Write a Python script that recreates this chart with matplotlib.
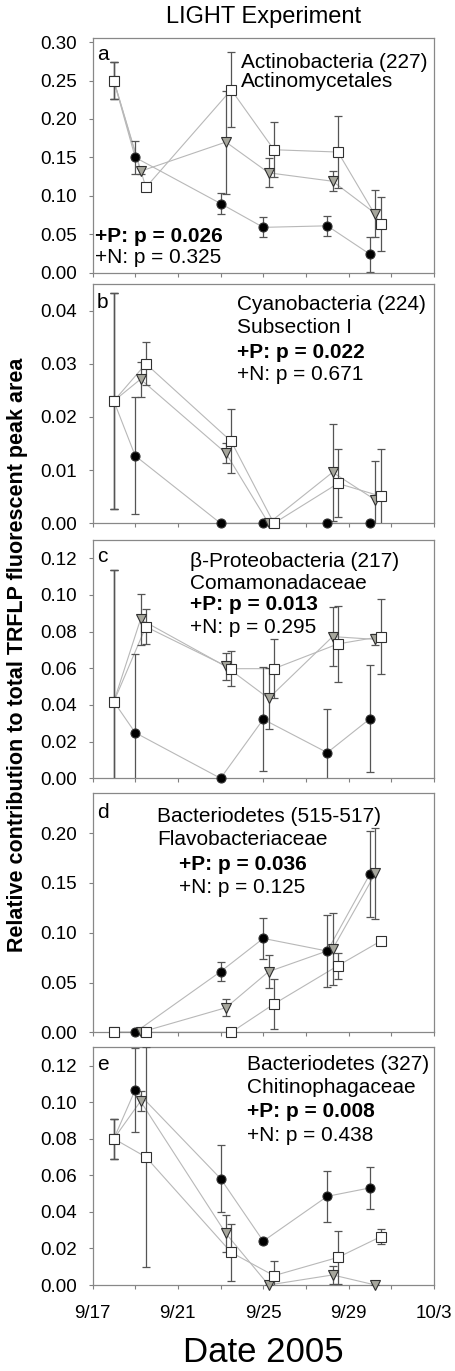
import datetime as dt
import matplotlib
matplotlib.use("Agg")
import matplotlib.pyplot as plt
from matplotlib.ticker import MultipleLocator, FormatStrFormatter, FuncFormatter, FixedLocator
import matplotlib.dates as mdates

plt.rcParams['font.family'] = ['Liberation Sans', 'DejaVu Sans']

# sampling dates (first one is shared by all treatments)
days = ['18/09/2005', '19/09/2005', '23/09/2005', '25/09/2005', '28/09/2005', '30/09/2005']
dates = [dt.datetime.strptime(d, '%d/%m/%Y') for d in days]

# a - Actinobacteria (227)
a_circle = [0.250, 0.150, 0.090, 0.059, 0.061, 0.024]
a_circle_err = [0.024, 0.021, 0.014, 0.013, 0.013, 0.023]
a_tri = [0.250, 0.132, 0.170, 0.130, 0.119, 0.077]
a_tri_err = [0.024, 0.004, 0.067, 0.019, 0.013, 0.031]
a_sq = [0.250, 0.111, 0.238, 0.160, 0.157, 0.063]
a_sq_err = [0.024, 0.0, 0.049, 0.036, 0.047, 0.035]

# b - Cyanobacteria (224)
b_circle = [0.0230, 0.0127, 0.0, 0.0, 0.0, 0.0]
b_circle_err = [0.0203, 0.0110, 0.0, 0.0, 0.0, 0.0]
b_tri = [0.0230, 0.0271, 0.0132, 0.0, 0.0096, 0.0044]
b_tri_err = [0.0203, 0.0033, 0.0019, 0.0, 0.0091, 0.0074]
b_sq = [0.0230, 0.0300, 0.0154, 0.0, 0.0075, 0.0051]
b_sq_err = [0.0203, 0.0040, 0.0060, 0.0, 0.0064, 0.0088]

# c - beta-Proteobacteria (217)
c_circle = [0.0418, 0.0249, 0.0, 0.0322, 0.0140, 0.0325]
c_circle_err = [0.0720, 0.0427, 0.0, 0.0283, 0.0236, 0.0293]
c_tri = [0.0418, 0.0867, 0.0610, 0.0436, 0.0773, 0.0758]
c_tri_err = [0.0720, 0.0140, 0.0075, 0.0168, 0.0160, 0.0030]
c_sq = [0.0418, 0.0827, 0.0598, 0.0598, 0.0733, 0.0773]
c_sq_err = [0.0720, 0.0095, 0.0095, 0.0162, 0.0205, 0.0205]

# d - Bacteriodetes (515-517)
d_circle = [0.0, 0.0, 0.0609, 0.0943, 0.0816, 0.1590]
d_circle_err = [0.0, 0.0, 0.0093, 0.0207, 0.0360, 0.0430]
d_tri = [0.0, 0.0, 0.0247, 0.0609, 0.0836, 0.1595]
d_tri_err = [0.0, 0.0, 0.0085, 0.0168, 0.0360, 0.0460]
d_sq = [0.0, 0.0, 0.0, 0.0284, 0.0669, 0.0916]
d_sq_err = [0.0, 0.0, 0.0, 0.0248, 0.0130, 0.0]

# e - Bacteriodetes (327)
e_circle = [0.080, 0.1067, 0.0582, 0.0240, 0.0485, 0.0531]
e_circle_err = [0.011, 0.0230, 0.0185, 0.0015, 0.0140, 0.0116]
e_tri = [0.080, 0.1005, 0.0282, 0.0, 0.0055, 0.0]
e_tri_err = [0.011, 0.0055, 0.0100, 0.0, 0.0050, 0.0]
e_sq = [0.080, 0.0700, 0.0178, 0.0051, 0.0151, 0.0264]
e_sq_err = [0.011, 0.0604, 0.0155, 0.0082, 0.0144, 0.0040]

letters = ['a', 'b', 'c', 'd', 'e']
taxa = ['Actinobacteria (227)', 'Cyanobacteria (224)', 'β-Proteobacteria (217)',
        'Bacteriodetes (515-517)', 'Bacteriodetes (327)']
families = ['Actinomycetales', 'Subsection I', 'Comamonadaceae',
            'Flavobacteriaceae', 'Chitinophagaceae']
p_P = ['0.026', '0.022', '0.013', '0.036', '0.008']
p_N = ['0.325', '0.671', '0.295', '0.125', '0.438']
ytops = [0.305, 0.045, 0.13, 0.24, 0.13]
ysteps = [0.05, 0.01, 0.02, 0.05, 0.02]

series = [
    [(a_circle, a_circle_err), (a_tri, a_tri_err), (a_sq, a_sq_err)],
    [(b_circle, b_circle_err), (b_tri, b_tri_err), (b_sq, b_sq_err)],
    [(c_circle, c_circle_err), (c_tri, c_tri_err), (c_sq, c_sq_err)],
    [(d_circle, d_circle_err), (d_tri, d_tri_err), (d_sq, d_sq_err)],
    [(e_circle, e_circle_err), (e_tri, e_tri_err), (e_sq, e_sq_err)],
]

# marker style and dodge (hours) for circle / triangle / square
styles = [('o', 'black', 6.5, 0), ('v', '#a6a69c', 7.5, 6), ('s', 'white', 7.2, 12)]

# axes boxes in pixels (top, bottom) of a 455x1371 figure
W, H = 455.0, 1371.0
x0, x1 = 92.5, 434.0
boxes = [(38.3, 272.7), (284.0, 523.3), (540.0, 778.3), (793.3, 1032.3), (1047.3, 1285.0)]

# text placement (axes fraction): taxon block x, line baselines, p-value x
txt_x = [0.435, 0.422, 0.286, 0.190, 0.451]
pv_x = [0.007, 0.422, 0.286, 0.254, 0.451]
lines_y = [
    [0.872, 0.791, 0.130, 0.043],
    [0.891, 0.794, 0.692, 0.599],
    [0.888, 0.793, 0.706, 0.608],
    [0.881, 0.784, 0.679, 0.582],
    [0.904, 0.807, 0.706, 0.606],
]
letter_y = [0.907, 0.900, 0.909, 0.898, 0.904]

start = dt.datetime(2005, 9, 17)
end = dt.datetime(2005, 10, 3)
major = [mdates.date2num(start + dt.timedelta(days=4 * i)) for i in range(5)]
minor = [mdates.date2num(start + dt.timedelta(days=2 + 4 * i)) for i in range(4)]

fig = plt.figure(figsize=(W / 100, H / 100), dpi=100)
axes = []
for i in range(5):
    top, bot = boxes[i]
    ax = fig.add_axes([x0 / W, 1 - bot / H, (x1 - x0) / W, (bot - top) / H])
    axes.append(ax)

    for k, (vals, errs) in enumerate(series[i]):
        marker, face, size, hrs = styles[k]
        x = [dates[0]] + [d + dt.timedelta(hours=hrs) for d in dates[1:]]
        ax.plot(x, vals, color='#b8b8b8', lw=0.8, zorder=1)
        ax.errorbar(x, vals, yerr=errs, fmt='none', ecolor='#555555',
                    elinewidth=0.9, capsize=3, capthick=0.9, zorder=2 + k)
        ax.plot(x, vals, ls='none', marker=marker, ms=size, mfc=face,
                mec='#303030', mew=0.8, zorder=5 + k, clip_on=False)

    ax.set_xlim(start, end)
    ax.set_ylim(0, ytops[i])
    ax.yaxis.set_major_locator(MultipleLocator(ysteps[i]))
    ax.yaxis.set_major_formatter(FormatStrFormatter('%.2f'))
    ax.xaxis.set_major_locator(FixedLocator(major))
    ax.xaxis.set_minor_locator(FixedLocator(minor))
    ax.xaxis.set_major_formatter(FuncFormatter(
        lambda v, pos: '%d/%d' % (mdates.num2date(v).month, mdates.num2date(v).day)))
    ax.tick_params(which='both', direction='out', length=3.2, width=0.8,
                   color='#808080', labelsize=13.5)
    ax.tick_params(axis='y', pad=8)
    ax.tick_params(axis='x', pad=11)
    for s in ax.spines.values():
        s.set_color('#888888')
        s.set_linewidth(0.9)
    if i < 4:
        ax.tick_params(axis='x', labelbottom=False)

    ly = lines_y[i]
    ax.text(0.013, letter_y[i], letters[i], transform=ax.transAxes, fontsize=15, va='baseline')
    ax.text(txt_x[i], ly[0], taxa[i], transform=ax.transAxes, fontsize=15, va='baseline')
    ax.text(txt_x[i], ly[1], families[i], transform=ax.transAxes, fontsize=15, va='baseline')
    ax.text(pv_x[i], ly[2], '+P: p = ' + p_P[i], transform=ax.transAxes, fontsize=15,
            fontweight='bold', va='baseline')
    ax.text(pv_x[i], ly[3], '+N: p = ' + p_N[i], transform=ax.transAxes, fontsize=15, va='baseline')

axes[0].set_title('LIGHT Experiment', fontsize=17, pad=11)
fig.text(((x0 + x1) / 2) / W, 1 - 1361.7 / H, 'Date 2005', fontsize=25, ha='center', va='baseline')
fig.text(18 / W, 1 - 655 / H, 'Relative contribution to total TRFLP fluorescent peak area',
         rotation=90, fontsize=15.5, fontweight='bold', ha='center', va='center')

fig.savefig('out.png', dpi=100)
